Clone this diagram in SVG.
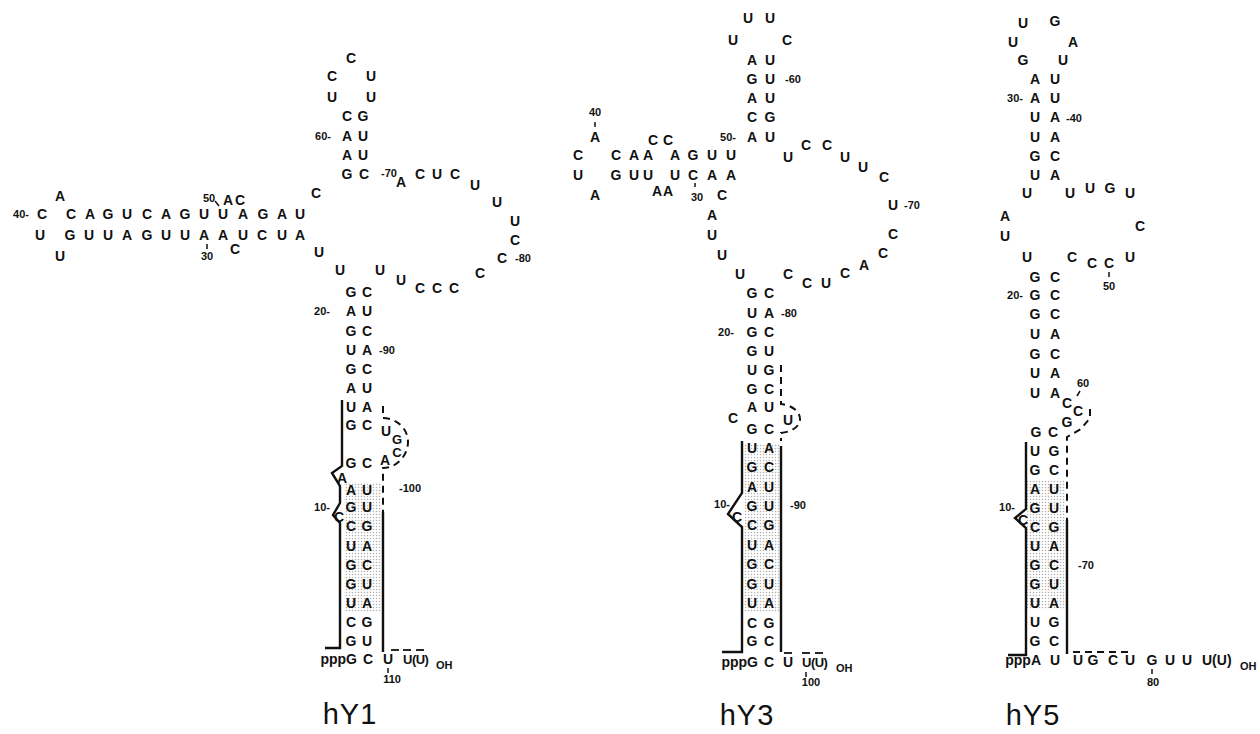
<svg xmlns="http://www.w3.org/2000/svg" width="1260" height="734" viewBox="0 0 1260 734">
<style>
.n{font-family:"Liberation Sans",Arial,sans-serif;font-weight:bold;font-size:14px;text-anchor:middle;fill:#111}
.s{font-family:"Liberation Sans",Arial,sans-serif;font-weight:bold;font-size:11px;text-anchor:middle;fill:#111}
.tl{font-family:"Liberation Sans",Arial,sans-serif;font-weight:bold;font-size:13px;letter-spacing:-0.5px;fill:#111}
.oh{font-family:"Liberation Sans",Arial,sans-serif;font-weight:bold;font-size:11px;fill:#111}
.t{font-family:"Liberation Sans",Arial,sans-serif;font-size:29px;text-anchor:middle;fill:#111;letter-spacing:1px}
.ln{stroke:#111;stroke-width:2.4;fill:none;stroke-linejoin:miter}
.ds{stroke:#111;stroke-width:2;fill:none;stroke-dasharray:7 5}
.tk{stroke:#111;stroke-width:1.5;fill:none}
.ob{stroke:#111;stroke-width:1.8}
.sh{fill:url(#dots)}
</style>
<defs>
<pattern id="dots" width="3" height="3" patternUnits="userSpaceOnUse">
<rect width="3" height="3" fill="#fff"/>
<circle cx="1.5" cy="1.5" r="0.75" fill="#b0b0b0"/>
</pattern>
</defs>
<rect width="1260" height="734" fill="#fff"/>

<g id="shading">
<rect class="sh" x="344" y="482" width="38" height="130"/>
<rect class="sh" x="743" y="444" width="37" height="168"/>
<rect class="sh" x="1027" y="480" width="39" height="130"/>
</g>

<g id="connectors">
<path class="ln" d="M342,400 V466 L332,473 L340,486 V503 L333,515 L340,523 V648 H325"/>
<path class="ds" d="M383,406 V418 C396,418 408,428 408,442 C408,456 396,468 383,468 V512"/>
<path class="ln" d="M383,512 V652"/>
<path class="ln" d="M742,441 V493 L728,514 L742,527 V652 H722"/>
<path class="ds" d="M781,365 V404 C791,405 800,411 800,419 C800,427 791,432 781,433 V441"/>
<path class="ln" d="M781,446 V652"/>
<path class="ln" d="M1026,442 V509 L1015,518 L1026,528 V655 H1008"/>
<path class="ds" d="M1090,409 V418 L1081,429 L1067,437 V520"/>
<path class="ln" d="M1067,520 V654"/>
<path class="ds" d="M1073,652 H1132" stroke-dasharray="10 7"/>
</g>

<g id="hY1">
<text class="n" x="351" y="63">C</text>
<text class="n" x="332 371" y="81">CU</text>
<text class="n" x="332 371" y="102">UU</text>
<text class="n" x="347 363" y="121">CG</text>
<text class="s" x="323" y="140">60-</text>
<text class="n" x="347 363" y="141">AU</text>
<text class="n" x="347 363" y="160">AU</text>
<text class="n" x="347 364" y="179">GC</text>
<text class="s" x="389" y="177">-70</text>
<text class="n" x="401" y="187">A</text>
<text class="n" x="420 437 455" y="179">CUC</text>
<text class="n" x="475" y="190">U</text>
<text class="n" x="497" y="207">U</text>
<text class="n" x="515" y="226">U</text>
<text class="n" x="515" y="245">C</text>
<text class="n" x="502" y="263">C</text>
<text class="s" x="523" y="262">-80</text>
<text class="n" x="480" y="278">C</text>
<text class="n" x="420 437 454" y="293">CCC</text>
<text class="n" x="401" y="285">U</text>
<text class="n" x="380" y="275">U</text>
<text class="n" x="340" y="275">U</text>
<text class="n" x="316" y="198">C</text>
<text class="n" x="319" y="257">U</text>

<text class="s" x="21" y="218">40-</text>
<text class="n" x="42 71 90 108 127 147 166 185 204 223 243 263 282 300" y="219">CCAGUCAGUUAGAU</text>
<text class="n" x="60" y="201">A</text>
<text class="n" x="40 70 89 108 127 147 166 185 204 223 243 262 282 300" y="240">UGUUAGUUAAUCUA</text>
<text class="n" x="60" y="261">U</text>
<text class="s" x="209" y="202">50</text>
<path class="tk" d="M215,201 L219,206"/>
<text class="n" x="228 240" y="205">AC</text>
<text class="s" x="207" y="260">30</text>
<path class="tk" d="M207,244 V249"/>
<text class="n" x="235" y="254">C</text>

<text class="n" x="351 367" y="297">GC</text>
<text class="s" x="322" y="315">20-</text>
<text class="n" x="351 367" y="316">AU</text>
<text class="n" x="351 367" y="336">GC</text>
<text class="n" x="351 367" y="355">UA</text>
<text class="s" x="387" y="354">-90</text>
<text class="n" x="351 367" y="374">GC</text>
<text class="n" x="351 367" y="393">AU</text>
<text class="n" x="351 367" y="412">UA</text>
<text class="n" x="351 367" y="430">GC</text>
<text class="n" x="386" y="436">U</text>
<text class="n" x="397" y="444" style="font-size:13px">G</text>
<text class="n" x="397" y="457" style="font-size:13px">C</text>
<text class="n" x="385" y="465">A</text>
<text class="n" x="351 367" y="468">GC</text>
<text class="n" x="342" y="483">A</text>
<text class="n" x="351 367" y="495">AU</text>
<text class="s" x="410" y="492">-100</text>
<text class="s" x="322" y="511">10-</text>
<text class="n" x="351 367" y="512">GU</text>
<text class="n" x="339" y="522">C</text>
<text class="n" x="351 367" y="531">CG</text>
<text class="n" x="351 367" y="551">UA</text>
<text class="n" x="351 367" y="570">GC</text>
<text class="n" x="351 367" y="589">GU</text>
<text class="n" x="351 367" y="608">UA</text>
<text class="n" x="351 367" y="627">CG</text>
<text class="n" x="351 367" y="646">GU</text>
<text class="n" x="357" y="664" style="text-anchor:end">pppG</text>
<text class="n" x="368" y="664">C</text>
<text class="n" x="388" y="664">U</text>
<text class="tl" x="403" y="664">U(U)</text>
<text class="oh" x="436" y="669">OH</text>
<line class="ob" x1="391" y1="650" x2="399" y2="650"/>
<line class="ob" x1="403" y1="650" x2="411" y2="650"/>
<line class="ob" x1="416" y1="650" x2="424" y2="650"/>
<path class="tk" d="M388,668 V673"/>
<text class="s" x="392" y="683">110</text>
<text class="t" x="350" y="724">hY1</text>
</g>

<g id="hY3">
<text class="n" x="748 770" y="23">UU</text>
<text class="n" x="733 787" y="45">UC</text>
<text class="n" x="752 770" y="65">AU</text>
<text class="n" x="752 770" y="84">GU</text>
<text class="s" x="793" y="83">-60</text>
<text class="n" x="752 770" y="103">AU</text>
<text class="n" x="752 770" y="122">CG</text>
<text class="s" x="728" y="141">50-</text>
<text class="n" x="752 770" y="142">AU</text>
<text class="n" x="788" y="162">U</text>
<text class="n" x="806 827" y="150">CC</text>
<text class="n" x="845" y="162">U</text>
<text class="n" x="863" y="172">U</text>
<text class="n" x="884" y="182">C</text>
<text class="n" x="893" y="210">U</text>
<text class="s" x="912" y="209">-70</text>
<text class="n" x="893" y="239">C</text>
<text class="n" x="883" y="258">C</text>
<text class="n" x="864" y="270">A</text>
<text class="n" x="845" y="278">C</text>
<text class="n" x="807 826" y="288">CU</text>
<text class="n" x="788" y="279">C</text>

<text class="s" x="595" y="116">40</text>
<path class="tk" d="M595,122 V127"/>
<text class="n" x="595" y="142">A</text>
<text class="n" x="578" y="160">C</text>
<text class="n" x="578" y="180">U</text>
<text class="n" x="595" y="200">A</text>
<text class="n" x="616 634 648 675 693 712 731" y="160">CAAAGUU</text>
<text class="n" x="653 668" y="145">CC</text>
<text class="n" x="616 634 648 675 693 712 731" y="180">GUUUCAA</text>
<text class="n" x="657 668" y="196">AA</text>
<text class="s" x="697" y="201">30</text>
<path class="tk" d="M695,183 V187"/>
<text class="n" x="722" y="200">C</text>
<text class="n" x="712" y="220">A</text>
<text class="n" x="712" y="240">U</text>
<text class="n" x="722" y="260">U</text>
<text class="n" x="740" y="279">U</text>

<text class="n" x="752 769" y="298">GC</text>
<text class="n" x="752 769" y="318">UA</text>
<text class="s" x="789" y="317">-80</text>
<text class="s" x="726" y="336">20-</text>
<text class="n" x="752 769" y="337">GC</text>
<text class="n" x="752 769" y="356">GU</text>
<text class="n" x="752 769" y="375">UG</text>
<text class="n" x="752 769" y="394">GC</text>
<text class="n" x="752 769" y="412">AU</text>
<text class="n" x="733" y="423">C</text>
<text class="n" x="788" y="425">U</text>
<text class="n" x="752 769" y="434">GC</text>
<text class="n" x="752 769" y="453">UA</text>
<text class="n" x="752 769" y="472">GC</text>
<text class="n" x="752 769" y="492">AU</text>
<text class="s" x="722" y="508">10-</text>
<text class="n" x="752 769" y="511">GU</text>
<text class="s" x="798" y="509">-90</text>
<text class="n" x="737" y="522">C</text>
<text class="n" x="752 769" y="530">CG</text>
<text class="n" x="752 769" y="550">UA</text>
<text class="n" x="752 769" y="569">GC</text>
<text class="n" x="752 769" y="589">GU</text>
<text class="n" x="752 769" y="608">UA</text>
<text class="n" x="752 769" y="628">CG</text>
<text class="n" x="752 769" y="646">GC</text>
<text class="n" x="758" y="667" style="text-anchor:end">pppG</text>
<text class="n" x="769" y="667">C</text>
<text class="n" x="788" y="667">U</text>
<text class="tl" x="802" y="667">U(U)</text>
<text class="oh" x="836" y="672">OH</text>
<line class="ob" x1="784" y1="653" x2="792" y2="653"/>
<line class="ob" x1="802" y1="653" x2="810" y2="653"/>
<line class="ob" x1="815" y1="653" x2="823" y2="653"/>
<path class="tk" d="M806,672 V677"/>
<text class="s" x="811" y="686">100</text>
<text class="t" x="747" y="725">hY3</text>
</g>

<g id="hY5">
<text class="n" x="1023" y="28">U</text>
<text class="n" x="1055" y="26">G</text>
<text class="n" x="1013 1073" y="47">UA</text>
<text class="n" x="1023 1063" y="65">GU</text>
<text class="n" x="1035 1055" y="84">AU</text>
<text class="s" x="1015" y="102">30-</text>
<text class="n" x="1035 1055" y="103">AU</text>
<text class="n" x="1035 1055" y="122">UA</text>
<text class="s" x="1074" y="122">-40</text>
<text class="n" x="1035 1055" y="142">UA</text>
<text class="n" x="1035 1055" y="161">GC</text>
<text class="n" x="1035 1055" y="180">UA</text>
<text class="n" x="1027 1070" y="198">UU</text>
<text class="n" x="1090 1110" y="193">UG</text>
<text class="n" x="1130" y="198">U</text>
<text class="n" x="1005" y="221">A</text>
<text class="n" x="1005" y="241">U</text>
<text class="n" x="1140" y="231">C</text>
<text class="n" x="1027 1072" y="262">UC</text>
<text class="n" x="1092 1109" y="268">CC</text>
<text class="n" x="1130" y="262">U</text>
<path class="tk" d="M1109,272 V277"/>
<text class="s" x="1109" y="290">50</text>
<text class="n" x="1035 1055" y="282">GC</text>
<text class="s" x="1015" y="299">20-</text>
<text class="n" x="1035 1055" y="300">GC</text>
<text class="n" x="1035 1055" y="319">GC</text>
<text class="n" x="1035 1055" y="339">UA</text>
<text class="n" x="1035 1055" y="359">GC</text>
<text class="n" x="1035 1055" y="378">UA</text>
<text class="n" x="1035 1055" y="398">UA</text>
<text class="s" x="1083" y="387">60</text>
<path class="tk" d="M1080,391 L1077,396"/>
<text class="n" x="1067" y="408">C</text>
<text class="n" x="1078" y="416">C</text>
<text class="n" x="1067" y="427">G</text>
<text class="n" x="1036 1053" y="437">GC</text>
<text class="n" x="1035 1054" y="456">UG</text>
<text class="n" x="1035 1054" y="475">GC</text>
<text class="n" x="1035 1054" y="494">AU</text>
<text class="s" x="1007" y="511">10-</text>
<text class="n" x="1035 1054" y="513">GU</text>
<text class="n" x="1023" y="525">C</text>
<text class="n" x="1035 1054" y="532">CG</text>
<text class="n" x="1035 1054" y="551">UA</text>
<text class="n" x="1035 1054" y="570">GC</text>
<text class="s" x="1086" y="569">-70</text>
<text class="n" x="1035 1054" y="589">GU</text>
<text class="n" x="1035 1054" y="608">UA</text>
<text class="n" x="1035 1054" y="627">UG</text>
<text class="n" x="1035 1054" y="646">GC</text>
<text class="n" x="1041" y="665" style="text-anchor:end">pppA</text>
<text class="n" x="1055" y="665">U</text>
<text class="n" x="1078 1093 1113 1130 1152 1170 1187" y="665">UGCUGUU</text>
<text class="n" x="1202" y="665" style="text-anchor:start">U(U)</text>
<text class="oh" x="1240" y="670">OH</text>
<path class="tk" d="M1152,669 V674"/>
<text class="s" x="1153" y="686">80</text>
<text class="t" x="1033" y="725">hY5</text>
</g>
</svg>
